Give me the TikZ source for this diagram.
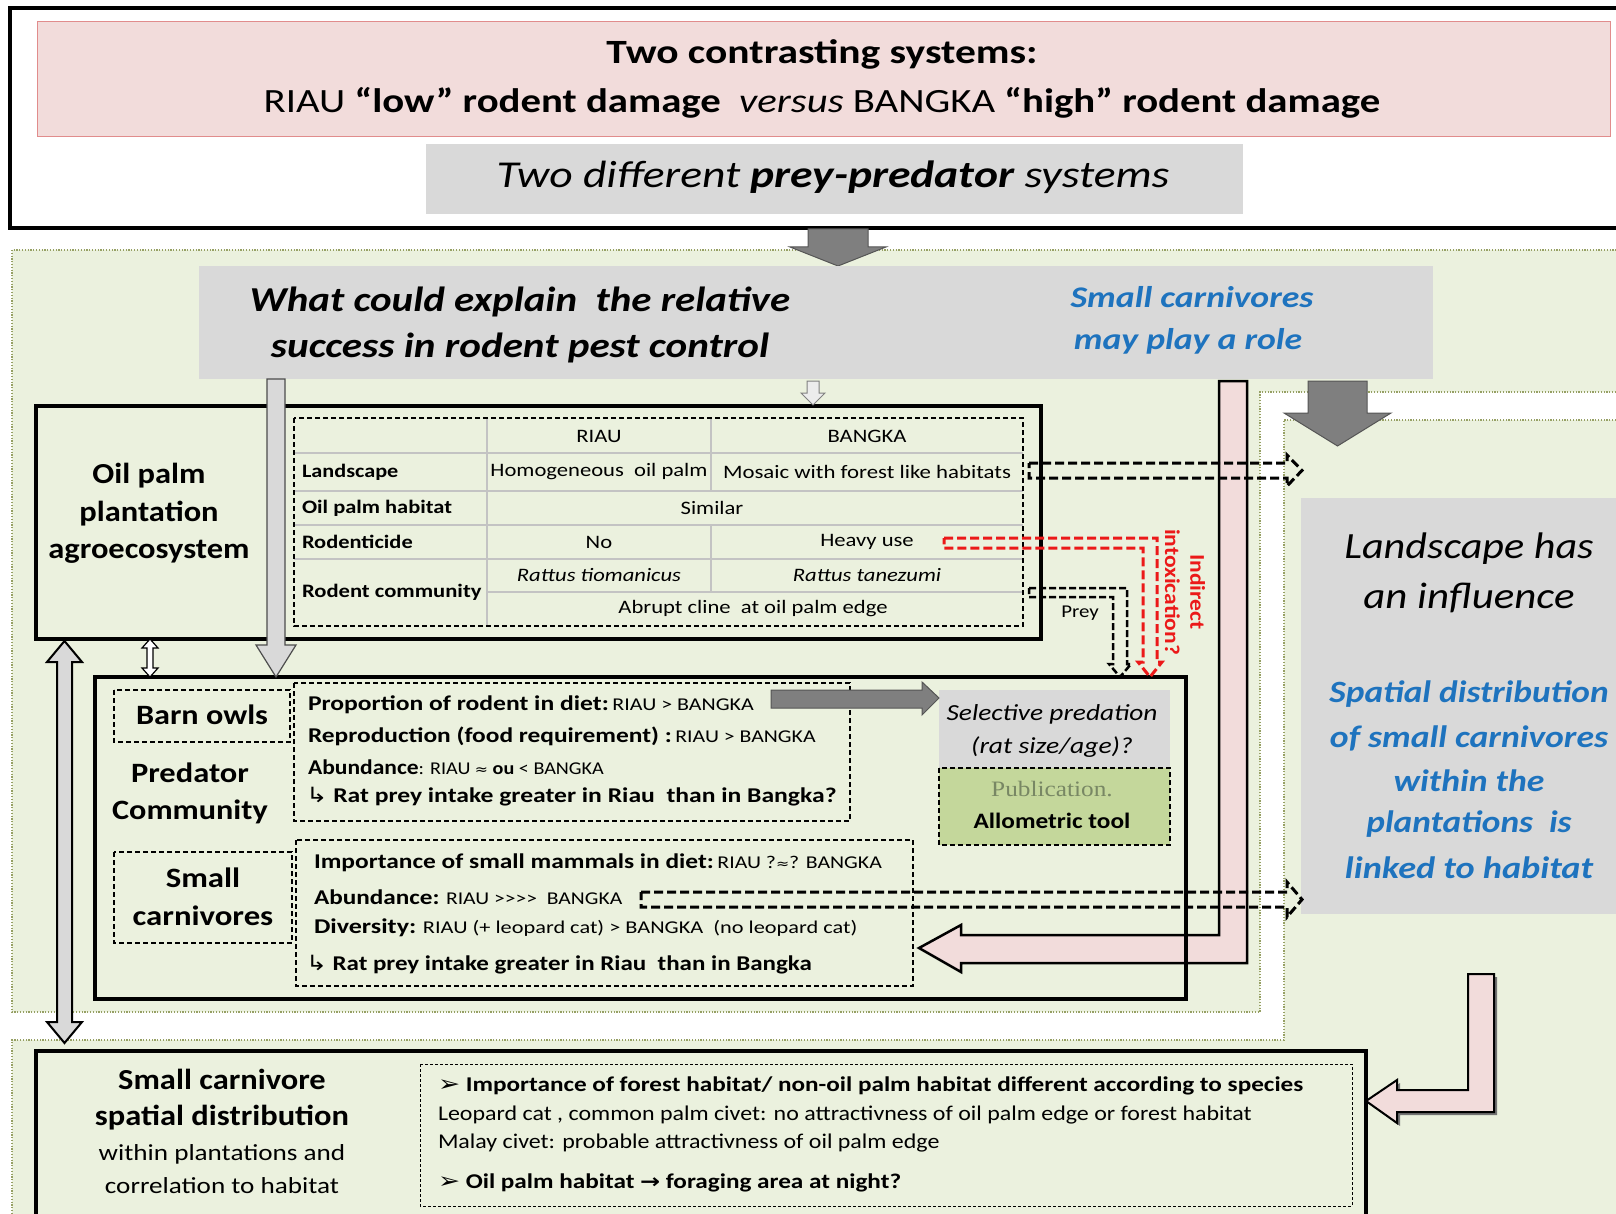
\documentclass[tikz,border=0pt]{standalone}
\usepackage{graphicx}
\usepackage{fontspec}
\setmainfont{Carlito}
\newfontfamily\dv{DejaVu Sans}
\newfontfamily\pubfont{Liberation Serif}
\newcommand{\fsz}[1]{\fontsize{#1}{1.2\dimexpr#1pt\relax}\selectfont}
\newcommand{\sx}[2]{\scalebox{#1}[1]{#2}}
\newcommand{\gtsep}{\kern0pt}
\definecolor{gbg}{RGB}{235,241,222}
\definecolor{boxgray}{RGB}{217,217,217}
\definecolor{pinkf}{RGB}{242,220,219}
\definecolor{pinkd}{RGB}{225,140,140}
\definecolor{dgray}{RGB}{127,127,127}
\definecolor{dgrayd}{RGB}{85,85,85}
\definecolor{dotc}{RGB}{150,160,100}
\definecolor{bluet}{RGB}{30,115,190}
\definecolor{redt}{RGB}{235,25,25}
\definecolor{pubg}{RGB}{196,215,155}
\definecolor{pubt}{RGB}{120,135,100}
\definecolor{gridc}{RGB}{195,195,195}
\begin{document}
\begin{tikzpicture}[x=1pt,y=-1pt,line join=miter,
  txt/.style={inner sep=0pt,outer sep=0pt,anchor=center},
  ltxt/.style={inner sep=0pt,outer sep=0pt,anchor=west},
  dbox/.style={draw=black,line width=1.1pt,dash pattern=on 5pt off 3pt},
  thickbox/.style={draw=black,line width=3.5pt},
  dotb/.style={draw=dotc,line width=1.6pt,dash pattern=on 1.2pt off 1.6pt},
  hdash/.style={draw=black,line width=3pt,dash pattern=on 9pt off 4pt},
  rdash/.style={draw=redt,line width=3pt,dash pattern=on 9pt off 4pt},
  gridl/.style={draw=gridc,line width=1.2pt},
  darrow/.style={fill=dgray,draw=dgrayd,line width=1pt},
  larrow/.style={fill=boxgray,draw=black!70,line width=1.2pt},
  parrow/.style={fill=pinkf,draw=black,line width=2.5pt}
]
\useasboundingbox (0,0) rectangle (1616,1214);
\fill[white] (0,0) rectangle (1616,1214);
% green regions
\fill[gbg] (12,250) -- (1616,250) -- (1616,392) -- (1260,392) -- (1260,1012) -- (12,1012) -- cycle;
\draw[dotb] (1616,392) -- (1260,392) -- (1260,1012) -- (12,1012) -- (12,250) -- (1616,250);
\fill[gbg] (1284,420) -- (1616,420) -- (1616,1214) -- (12,1214) -- (12,1040) -- (1284,1040) -- cycle;
\draw[dotb] (1616,420) -- (1284,420) -- (1284,1040) -- (12,1040) -- (12,1214);
% top box
\draw[line width=4pt,fill=white] (10,8) rectangle (1640,228);
\fill[pinkf] (37,21) rectangle (1610,136);
\draw[pinkd,line width=0.8pt] (37,21) rectangle (1610,136);
\fill[boxgray] (426,144) rectangle (1243,214);
\node[txt] (t1) at (822,54) {\sx{1.22}{\fsz{34}\bfseries Two contrasting systems:}};
\node[txt] (t2) at (822,103) {\sx{1.2}{\fsz{34}RIAU {\bfseries “low” rodent damage}\ \ \textit{versus} BANGKA {\bfseries “high” rodent damage}}};
\node[txt] (t3) at (833,177) {\sx{1.2}{\fsz{38}\itshape Two different \textbf{prey-predator} systems}};
\draw[darrow] (808,229) -- (868,229) -- (868,247) -- (886,247) -- (838,266) -- (790,247) -- (808,247) -- cycle;
% question box
\fill[boxgray] (199,266) rectangle (1433,379);
\node[txt] (q1) at (520,302) {\sx{1.17}{\fsz{35}\bfseries\itshape What could explain\ \ the relative}};
\node[txt] (q2) at (520,348) {\sx{1.175}{\fsz{35}\bfseries\itshape success in rodent pest control}};
\node[txt,text=bluet] (s1) at (1192,297) {\sx{1.19}{\fsz{30}\bfseries\itshape Small carnivores}};
\node[txt,text=bluet] (s2) at (1188,341) {\sx{1.19}{\fsz{30}\bfseries\itshape may play a role}};
% landscape box
\fill[boxgray] (1301,498) rectangle (1640,914);
\node[txt] (l1) at (1469,549) {\sx{1.14}{\fsz{37}\itshape Landscape has}};
\node[txt] (l2) at (1469,598) {\sx{1.16}{\fsz{37}\itshape an influence}};
\node[txt,text=bluet] (b1) at (1469,694) {\sx{1.14}{\fsz{31}\bfseries\itshape Spatial distribution}};
\node[txt,text=bluet] (b2) at (1469,738) {\sx{1.15}{\fsz{31}\bfseries\itshape of small carnivores}};
\node[txt,text=bluet] (b3) at (1469,781) {\sx{1.15}{\fsz{31}\bfseries\itshape within the}};
\node[txt,text=bluet] (b4) at (1469,824) {\sx{1.14}{\fsz{31}\bfseries\itshape plantations\ \ is}};
\node[txt,text=bluet] (b5) at (1469,868) {\sx{1.17}{\fsz{31}\bfseries\itshape linked to habitat}};
% oil palm box
\draw[thickbox] (36,406) rectangle (1041,639);
\node[txt] (o1) at (149,476) {\sx{1.12}{\fsz{29}\bfseries Oil palm}};
\node[txt] (o2) at (149,514) {\sx{1.12}{\fsz{29}\bfseries plantation}};
\node[txt] (o3) at (149,552) {\sx{1.12}{\fsz{29}\bfseries agroecosystem}};
% table
\draw[gridl] (294,453) -- (1023,453);
\draw[gridl] (294,491) -- (1023,491);
\draw[gridl] (294,525) -- (1023,525);
\draw[gridl] (294,559) -- (1023,559);
\draw[gridl] (487,592) -- (1023,592);
\draw[gridl] (487,418) -- (487,626);
\draw[gridl] (711,418) -- (711,491);
\draw[gridl] (711,525) -- (711,592);
\draw[dbox] (294,418) rectangle (1023,626);
\node[txt] (h1) at (599,436) {\sx{1.19}{\fsz{19}RIAU}};
\node[txt] (h2) at (867,436) {\sx{1.19}{\fsz{19}BANGKA}};
\node[ltxt] (r1) at (302,472) {\sx{1.17}{\fsz{19}\bfseries Landscape}};
\node[txt] (r1a) at (599,472) {\sx{1.19}{\fsz{19}Homogeneous\ \ oil palm}};
\node[txt] (r1b) at (867,472) {\sx{1.2}{\fsz{19}Mosaic with forest like habitats}};
\node[ltxt] (r2) at (302,508) {\sx{1.18}{\fsz{19}\bfseries Oil palm habitat}};
\node[txt] (r2a) at (712,508) {\sx{1.19}{\fsz{19}Similar}};
\node[ltxt] (r3) at (302,542) {\sx{1.18}{\fsz{19}\bfseries Rodenticide}};
\node[txt] (r3a) at (599,542) {\sx{1.19}{\fsz{19}No}};
\node[txt] (r3b) at (867,542) {\sx{1.19}{\fsz{19}Heavy use}};
\node[txt] (r4a) at (599,575) {\sx{1.19}{\fsz{19}\itshape Rattus tiomanicus}};
\node[txt] (r4b) at (867,575) {\sx{1.19}{\fsz{19}\itshape Rattus tanezumi}};
\node[ltxt] (r4) at (302,592) {\sx{1.19}{\fsz{19}\bfseries Rodent community}};
\node[txt] (r5) at (753,609) {\sx{1.19}{\fsz{19}Abrupt cline\ \ at oil palm edge}};
% predator community box contents
\fill[boxgray] (939,690) rectangle (1170,768);
\fill[pubg] (939,768) rectangle (1170,845);
\draw[dbox] (939,768) rectangle (1170,845);
\node[txt] (sp1) at (1052,714) {\sx{1.19}{\fsz{23}\itshape Selective predation}};
\node[txt] (sp2) at (1052,747) {\sx{1.2}{\fsz{23}\itshape (rat size/age)?}};
\node[txt,text=pubt] (pb1) at (1052,789) {\sx{1.15}{\fsz{22}\pubfont Publication.}};
\node[txt] (pb2) at (1052,821) {\sx{1.15}{\fsz{22}\bfseries Allometric tool}};
\draw[dbox] (114,690) rectangle (290,742);
\draw[dbox] (114,852) rectangle (292,943);
\draw[dbox] (294,683) rectangle (850,821);
\draw[dbox] (296,840) rectangle (913,986);
\node[txt] (bo) at (202,715) {\sx{1.15}{\fsz{28}\bfseries Barn owls}};
\node[txt] (pc1) at (190,773) {\sx{1.16}{\fsz{28}\bfseries Predator}};
\node[txt] (pc2) at (190,812) {\sx{1.15}{\fsz{28}\bfseries Community}};
\node[txt] (sc1) at (203,878) {\sx{1.17}{\fsz{28}\bfseries Small}};
\node[txt] (sc2) at (203,916) {\sx{1.17}{\fsz{28}\bfseries carnivores}};
\node[ltxt] (i1) at (308,705) {\sx{1.22}{\fsz{21}\bfseries Proportion of rodent in diet:\mdseries\fsz{18}\,RIAU > BANGKA}};
\node[ltxt] (i2) at (308,736) {\sx{1.21}{\fsz{21}\bfseries Reproduction (food requirement) :\mdseries\fsz{18}\,RIAU > BANGKA}};
\node[ltxt] (i3) at (308,767) {\sx{1.12}{\fsz{21}\bfseries Abundance\mdseries\fsz{18}: RIAU {\dv\fsz{14}≈} \bfseries ou \mdseries < BANGKA}};
\node[ltxt] (i4) at (306,797) {\sx{1.22}{\fsz{21}{\dv\fsz{21}↳} \bfseries Rat prey intake greater in Riau\ \ than in Bangka?}};
\node[ltxt] (j1) at (314,863) {\sx{1.21}{\fsz{21}\bfseries Importance of small mammals in diet:\mdseries\fsz{18}\,RIAU ?{\dv\fsz{13}≈}? BANGKA}};
\node[ltxt] (j2) at (314,897) {\sx{1.2}{\fsz{21}\bfseries Abundance:\mdseries\fsz{18} RIAU >\gtsep>\gtsep>\gtsep>\ \ BANGKA}};
\node[ltxt] (j3) at (314,928) {\sx{1.24}{\fsz{21}\bfseries Diversity:\mdseries\fsz{18} RIAU (+ leopard cat) > BANGKA\ \ (no leopard cat)}};
\node[ltxt] (j4) at (306,965) {\sx{1.19}{\fsz{21}{\dv\fsz{21}↳} \bfseries Rat prey intake greater in Riau\ \ than in Bangka}};
% big pink arrow
\draw[parrow] (1219,381) -- (1247,381) -- (1247,963) -- (961,963) -- (961,972) -- (919,948) -- (961,925) -- (961,935) -- (1219,935) -- cycle;
\draw[thickbox] (95,677) rectangle (1186,999);
% light gray long arrow and small arrows
\draw[larrow] (267,379) -- (285,379) -- (285,645) -- (296,645) -- (276,677) -- (256,645) -- (267,645) -- cycle;
\draw[fill=gray!15,draw=gray,line width=1pt] (807,381) -- (819,381) -- (819,393) -- (825,393) -- (813,405) -- (801,393) -- (807,393) -- cycle;
\draw[fill=white,draw=black,line width=1.2pt] (150,639) -- (158,648) -- (153,648) -- (153,668) -- (158,668) -- (150,677) -- (142,668) -- (147,668) -- (147,648) -- (142,648) -- cycle;
\draw[fill=boxgray,draw=black,line width=2pt] (64.5,641) -- (82,662) -- (72,662) -- (72,1022) -- (82,1022) -- (64.5,1043) -- (47,1022) -- (57,1022) -- (57,662) -- (47,662) -- cycle;
% dark gray arrows
\draw[darrow] (771,690) -- (922,690) -- (922,682) -- (939,698) -- (922,715) -- (922,708) -- (771,708) -- cycle;
\draw[darrow] (1308,381) -- (1367,381) -- (1367,413) -- (1391,413) -- (1337.5,446) -- (1284,413) -- (1308,413) -- cycle;
% dashed hollow arrows
\draw[hdash] (1029,463) -- (1287,463) -- (1287,455) -- (1302,470.5) -- (1287,486) -- (1287,478) -- (1029,478) -- cycle;
\draw[hdash] (641,892) -- (1287,892) -- (1287,882) -- (1302,899.5) -- (1287,917) -- (1287,907) -- (641,907) -- cycle;
\draw[hdash,line width=2.5pt,dash pattern=on 7pt off 3pt] (1029,588) -- (1127,588) -- (1127,664) -- (1131,664) -- (1120,677) -- (1109,664) -- (1113,664) -- (1113,597) -- (1029,597) -- cycle;
\draw[rdash] (944,538) -- (1157,538) -- (1157,662) -- (1162,662) -- (1150,677) -- (1138,662) -- (1143,662) -- (1143,548) -- (944,548) -- cycle;
\node[txt] (prey) at (1080,613) {\sx{1.16}{\fsz{18}Prey}};
\node[txt,rotate=-90,text=redt,align=center,font=\fsz{21}\bfseries] (ind) at (1185,592) {\sx{1.12}{Indirect}\\\sx{1.12}{intoxication?}};
% bottom box
\draw[thickbox] (36,1051) rectangle (1366,1218);
\draw[draw=black,line width=1pt,dash pattern=on 3pt off 2pt] (420,1064) rectangle (1352,1206);
\node[txt] (k1) at (222,1079) {\sx{1.12}{\fsz{29}\bfseries Small carnivore}};
\node[txt] (k2) at (222,1118) {\sx{1.12}{\fsz{29}\bfseries spatial distribution}};
\node[txt] (k3) at (222,1154) {\sx{1.18}{\fsz{23}within plantations and}};
\node[txt] (k4) at (222,1186) {\sx{1.18}{\fsz{23}correlation to habitat}};
\node[ltxt] (m1) at (438,1086) {\sx{1.2}{\fsz{21}{\dv\fsz{22}\bfseries ➢}\ \bfseries Importance of forest habitat/ non-oil palm habitat different according to species}};
\node[ltxt] (m2) at (438,1115) {\sx{1.14}{\fsz{21}Leopard cat , common palm civet: no attractivness of oil palm edge or forest habitat}};
\node[ltxt] (m3) at (438,1143) {\sx{1.14}{\fsz{21}Malay civet: probable attractivness of oil palm edge}};
\node[ltxt] (m4) at (438,1183) {\sx{1.2}{\fsz{21}{\dv\fsz{22}\bfseries ➢}\ \bfseries Oil palm habitat {\dv\fsz{20}\bfseries →} foraging area at night?}};
\fill[black!55] (1471,977) -- (1497,977) -- (1497,1115) -- (1400,1115) -- (1400,1126) -- (1369,1104) -- (1400,1083) -- (1400,1093) -- (1471,1093) -- cycle;
\draw[parrow,line width=2pt] (1468,974) -- (1494,974) -- (1494,1112) -- (1397,1112) -- (1397,1123) -- (1366,1101) -- (1397,1080) -- (1397,1090) -- (1468,1090) -- cycle;
\end{tikzpicture}
\end{document}
